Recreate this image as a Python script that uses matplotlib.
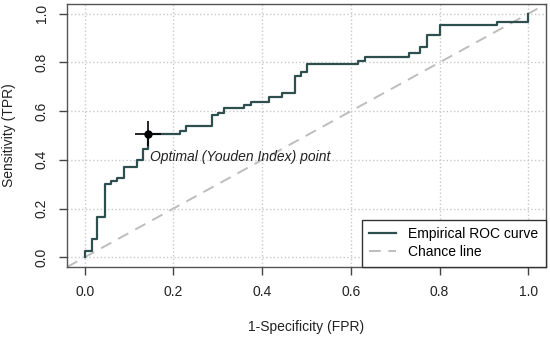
import matplotlib.pyplot as plt

plt.rcParams['font.family'] = ['Liberation Sans', 'DejaVu Sans']

# empirical ROC curve, corner points (fpr where the step rises, tpr after the rise)
fpr = [0.0, 0.0, 0.017, 0.028, 0.046, 0.059, 0.072, 0.089, 0.117, 0.131, 0.143,
       0.215, 0.228, 0.286, 0.300, 0.315, 0.359, 0.374, 0.415, 0.444, 0.474,
       0.488, 0.502, 0.616, 0.631, 0.730, 0.757, 0.772, 0.800, 0.929, 1.0]
tpr = [0.0, 0.027, 0.076, 0.165, 0.300, 0.312, 0.327, 0.371, 0.400, 0.444, 0.508,
       0.519, 0.539, 0.583, 0.593, 0.611, 0.625, 0.639, 0.657, 0.673, 0.745,
       0.762, 0.793, 0.806, 0.822, 0.838, 0.865, 0.911, 0.955, 0.968, 1.0]

# Youden optimal point with its uncertainty
opt_fpr, opt_tpr = 0.143, 0.508
opt_xerr, opt_yerr = 0.029, 0.05

ticks = [0.0, 0.2, 0.4, 0.6, 0.8, 1.0]
tick_labels = ['0.0', '0.2', '0.4', '0.6', '0.8', '1.0']

fig = plt.figure(figsize=(5.5, 3.37), dpi=100)
ax = fig.add_axes([67 / 550, 1 - 267 / 337, 479 / 550, 263 / 337])

ax.set_xlim(-0.04, 1.04)
ax.set_ylim(-0.04, 1.04)

for t in ticks:
    ax.axvline(t, color='#c8c8c8', linestyle=':', linewidth=1, zorder=0)
    ax.axhline(t, color='#c8c8c8', linestyle=':', linewidth=1, zorder=0)

ax.axline((0, 0), (1, 1), color='#bdbdbd', linestyle=(0, (6, 4)), linewidth=1.4,
          label='Chance line', zorder=1)
ax.plot(fpr, tpr, drawstyle='steps-post', color='#2f4f4f', linewidth=1.6,
        label='Empirical ROC curve', zorder=2)

ax.errorbar([opt_fpr], [opt_tpr], xerr=[opt_xerr], yerr=[opt_yerr], fmt='o',
            color='black', markersize=5, elinewidth=1.2, capsize=0, zorder=3)
ax.text(opt_fpr + 0.005, opt_tpr - 0.095, 'Optimal (Youden Index) point',
        fontsize=10, style='italic', color='#222222', va='center', ha='left')

ax.set_xticks(ticks)
ax.set_xticklabels(tick_labels)
ax.set_yticks(ticks)
ax.set_yticklabels(tick_labels, rotation=90, va='center')
ax.tick_params(direction='out', length=5.8, width=1, colors='#444444',
               labelcolor='#222222', labelsize=10, pad=7.5)
for s in ax.spines.values():
    s.set_color('#555555')
    s.set_linewidth(1)

ax.set_xlabel('1-Specificity (FPR)', fontsize=10, color='#222222', labelpad=14.5)
ax.set_ylabel('Sensitivity (TPR)', fontsize=10, color='#222222', labelpad=13)

handles, labels = ax.get_legend_handles_labels()
leg = ax.legend(handles[::-1], labels[::-1], loc='lower right', borderaxespad=0,
                fontsize=10, fancybox=False, framealpha=1, edgecolor='#333333',
                handlelength=1.9, handletextpad=0.9, labelspacing=0.3,
                borderpad=0.55)
leg.get_frame().set_linewidth(1)

plt.savefig('out.png', dpi=100)
